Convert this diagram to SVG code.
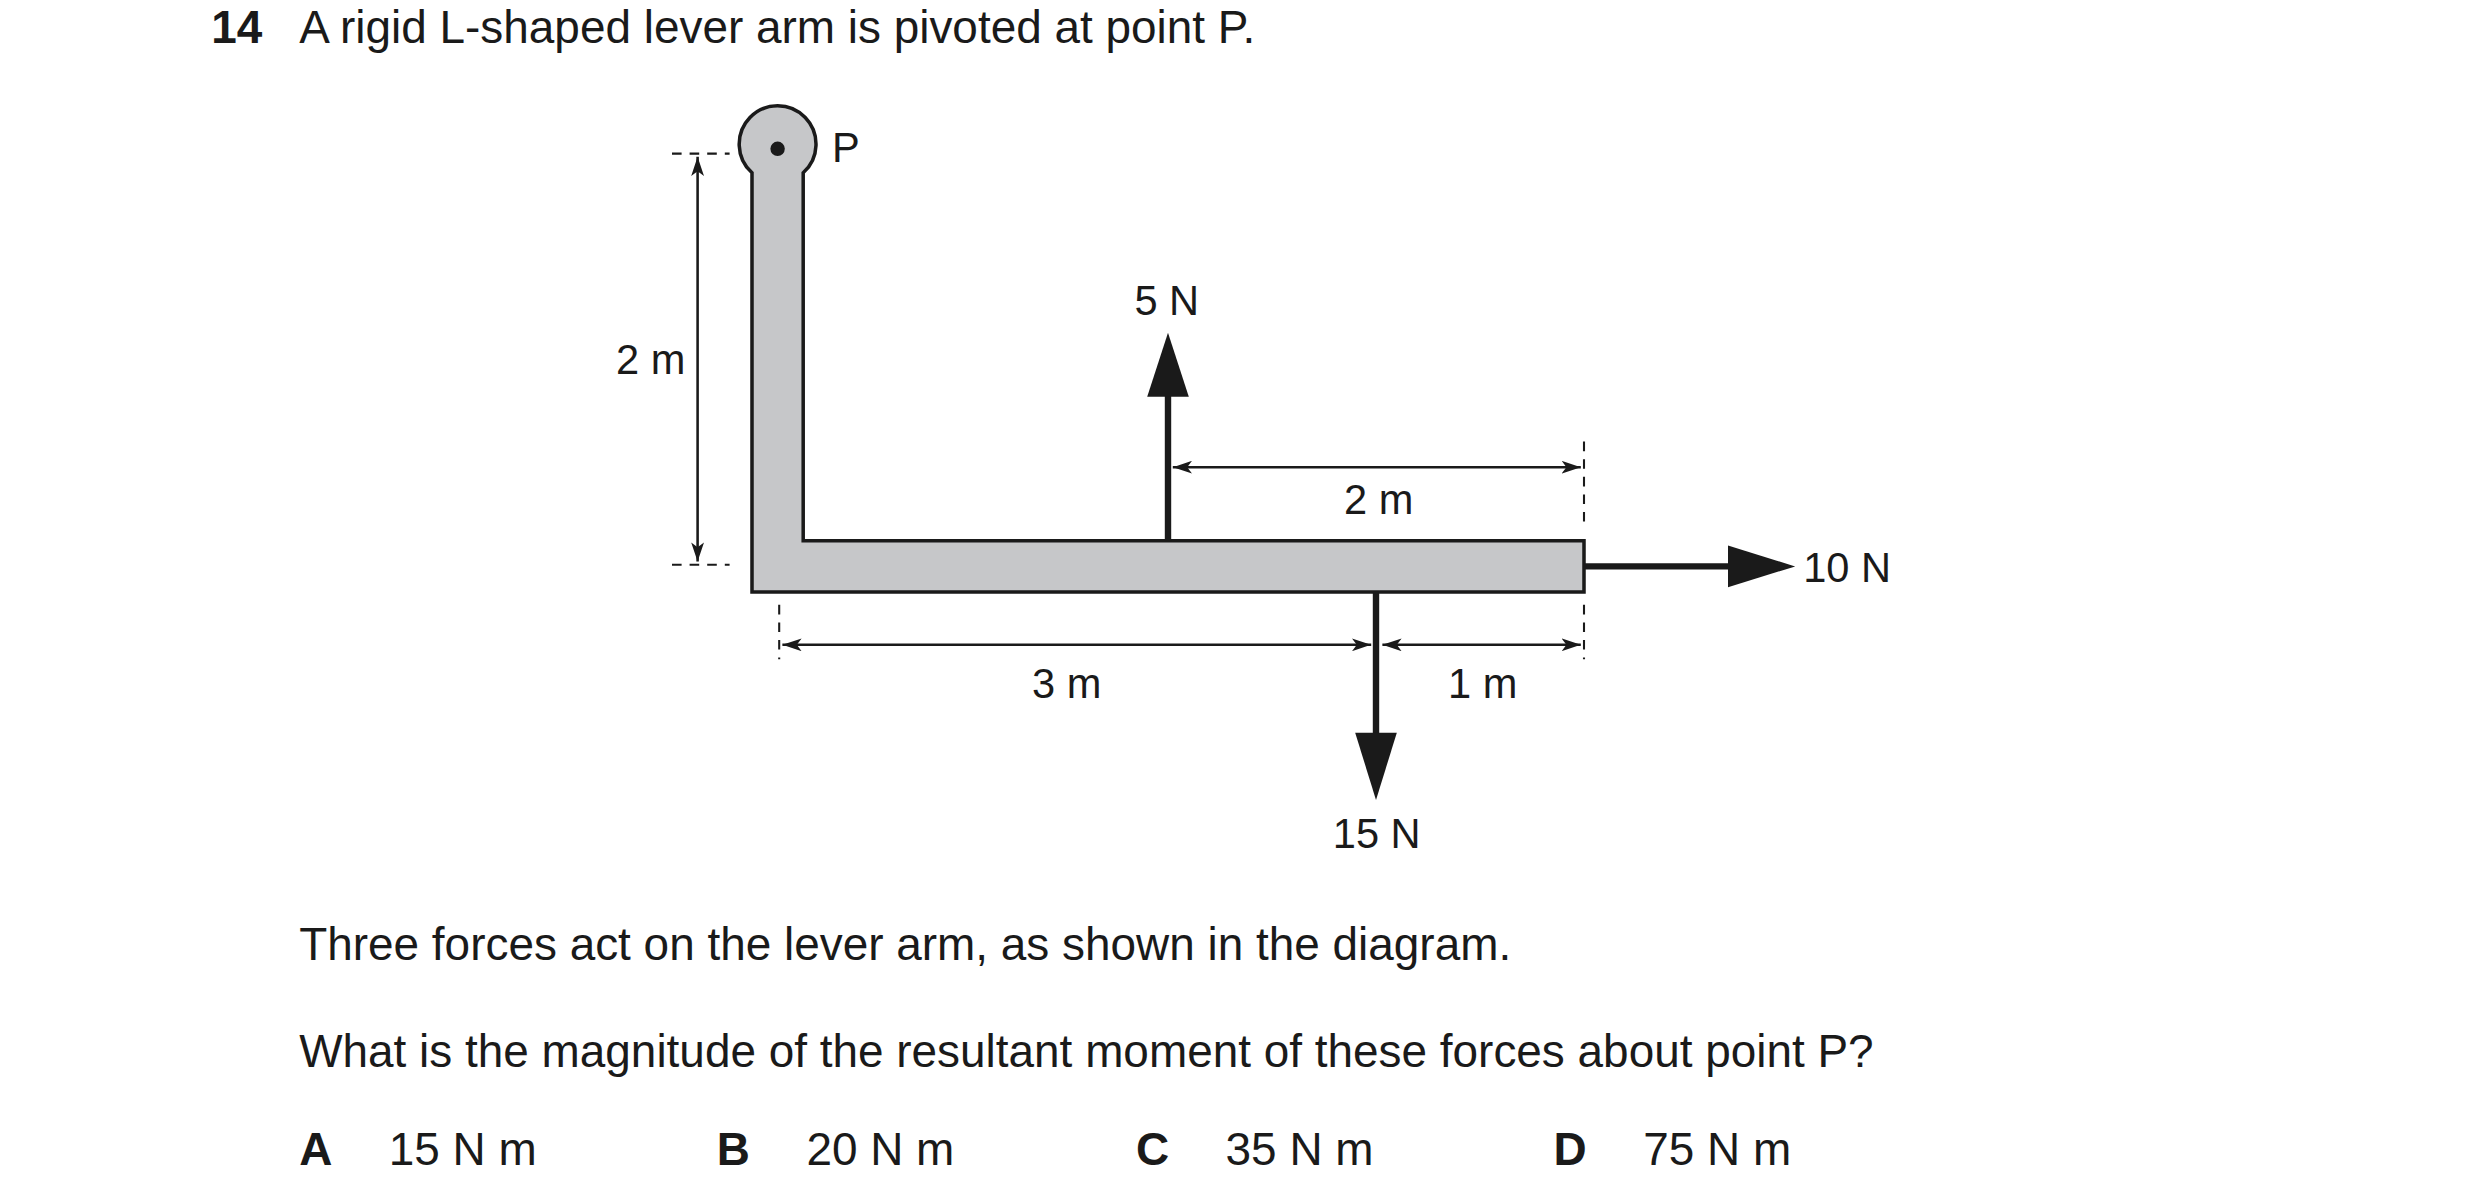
<svg xmlns="http://www.w3.org/2000/svg" width="2480" height="1193" viewBox="0 0 2480 1193">
<style>
text{font-family:"Liberation Sans",Arial,sans-serif;font-size:26px;fill:#1a1a1a}
.q{font-size:28.7px}
.b{font-weight:bold}
.dim{stroke:#1a1a1a;stroke-width:1.6;fill:none}
.dash{stroke:#1a1a1a;stroke-width:1.3;stroke-dasharray:6,5;fill:none}
.force{stroke:#1a1a1a;stroke-width:4;fill:none}
.head{fill:#1a1a1a}
</style>
<defs>
<marker id="ah" markerWidth="12" markerHeight="8" refX="12" refY="4" orient="auto-start-reverse" markerUnits="userSpaceOnUse">
<path d="M0,0 L12,4 L0,8 L3,4 Z" fill="#1a1a1a"/>
</marker>
</defs>
<rect width="2480" height="1193" fill="#fff"/>
<g transform="scale(1.6)">
<g id="question">
<text x="132" y="27" class="q b">14</text>
<text x="187" y="27" class="q">A rigid L-shaped lever arm is pivoted at point P.</text>
<text x="187" y="600" class="q">Three forces act on the lever arm, as shown in the diagram.</text>
<text x="187" y="667" class="q">What is the magnitude of the resultant moment of these forces about point P?</text>
<text x="187" y="728" class="q b">A</text><text x="243" y="728" class="q">15 N m</text>
<text x="448" y="728" class="q b">B</text><text x="504" y="728" class="q">20 N m</text>
<text x="710" y="728" class="q b">C</text><text x="766" y="728" class="q">35 N m</text>
<text x="971" y="728" class="q b">D</text><text x="1027" y="728" class="q">75 N m</text>
</g>
<g id="lever">
<path d="M470,108 A24,24 0 1 1 502,108 L502,338 L990,338 L990,370 L470,370 Z" fill="#c6c7c9" stroke="#1a1a1a" stroke-width="2.2"/>
<circle cx="486" cy="93" r="4.5" fill="#1a1a1a"/>
<text x="520" y="101">P</text>
</g>
<g id="connectors">
<line class="dash" x1="420" y1="96" x2="456" y2="96"/>
<line class="dash" x1="420" y1="353" x2="456" y2="353"/>
<line class="dim" x1="436" y1="98" x2="436" y2="351" marker-start="url(#ah)" marker-end="url(#ah)"/>
<line class="dash" x1="990" y1="276" x2="990" y2="328"/>
<line class="dim" x1="733" y1="292" x2="988" y2="292" marker-start="url(#ah)" marker-end="url(#ah)"/>
<line class="dash" x1="487" y1="378" x2="487" y2="412"/>
<line class="dash" x1="990" y1="378" x2="990" y2="412"/>
<line class="dim" x1="489" y1="403" x2="857" y2="403" marker-start="url(#ah)" marker-end="url(#ah)"/>
<line class="dim" x1="864" y1="403" x2="988" y2="403" marker-start="url(#ah)" marker-end="url(#ah)"/>
<line class="force" x1="730" y1="338" x2="730" y2="245"/>
<path class="head" d="M730,208 L743,248 L717,248 Z"/>
<line class="force" x1="990" y1="354" x2="1085" y2="354"/>
<path class="head" d="M1122,354 L1080,367 L1080,341 Z"/>
<line class="force" x1="860" y1="370" x2="860" y2="462"/>
<path class="head" d="M860,500 L847,458 L873,458 Z"/>
</g>
<g id="labels">
<text x="385" y="234">2 m</text>
<text x="709" y="197">5 N</text>
<text x="840" y="321">2 m</text>
<text x="1127" y="364">10 N</text>
<text x="645" y="436">3 m</text>
<text x="905" y="436">1 m</text>
<text x="833" y="530">15 N</text>
</g>
</g>
</svg>
